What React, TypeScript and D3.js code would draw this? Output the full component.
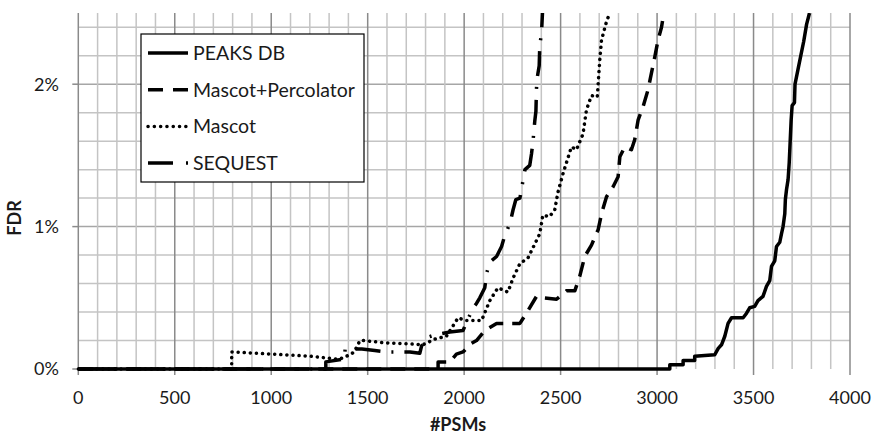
import React from 'react'
import { scaleLinear, line, range } from 'd3'

// [#PSMs, FDR %]
const peaksDb: [number, number][] = [
  [0, 0], [3066, 0], [3066, 0.03], [3135, 0.03], [3135, 0.06], [3195, 0.06], [3195, 0.09],
  [3299, 0.1], [3317, 0.145], [3334, 0.17], [3351, 0.23], [3368, 0.32], [3386, 0.36],
  [3446, 0.36], [3463, 0.39], [3480, 0.43], [3506, 0.44], [3523, 0.48], [3549, 0.51],
  [3567, 0.58], [3584, 0.62], [3593, 0.72], [3610, 0.76], [3619, 0.86], [3636, 0.89],
  [3645, 0.95], [3653, 1.0], [3662, 1.09], [3665, 1.19], [3671, 1.26], [3679, 1.33],
  [3685, 1.45], [3690, 1.6], [3695, 1.75], [3700, 1.85], [3712, 1.87], [3715, 2.0],
  [3730, 2.1], [3745, 2.2], [3760, 2.3], [3775, 2.42], [3790, 2.5],
]

const mascotPercolator: [number, number][] = [
  [0, 0], [1865, 0], [1865, 0.05], [1926, 0.05], [1960, 0.105], [1994, 0.12], [2038, 0.18],
  [2064, 0.2], [2107, 0.27], [2168, 0.32], [2289, 0.32], [2331, 0.41], [2375, 0.51],
  [2408, 0.5], [2479, 0.49], [2531, 0.55], [2574, 0.55], [2599, 0.65], [2625, 0.79],
  [2660, 0.87], [2695, 0.98], [2712, 1.09], [2738, 1.21], [2772, 1.28], [2798, 1.35],
  [2807, 1.49], [2833, 1.56], [2867, 1.54], [2884, 1.61], [2902, 1.75], [2927, 1.84],
  [2953, 1.96], [2971, 2.08], [2988, 2.19], [3005, 2.31], [3023, 2.4], [3035, 2.5],
]

const mascot: [number, number][] = [
  [0, 0], [795, 0], [795, 0.12], [1000, 0.105], [1200, 0.09], [1339, 0.07], [1365, 0.075],
  [1408, 0.1], [1430, 0.12], [1460, 0.2], [1477, 0.2], [1579, 0.185], [1734, 0.175],
  [1786, 0.17], [1848, 0.21], [1908, 0.23], [1969, 0.36], [2004, 0.34], [2090, 0.34],
  [2133, 0.48], [2175, 0.57], [2227, 0.54], [2254, 0.64], [2289, 0.74], [2331, 0.78],
  [2392, 0.95], [2408, 1.08], [2443, 1.07], [2470, 1.12], [2486, 1.24], [2512, 1.37],
  [2556, 1.56], [2582, 1.54], [2616, 1.65], [2634, 1.82], [2660, 1.92], [2690, 1.91],
  [2703, 2.17], [2712, 2.31], [2738, 2.44], [2755, 2.5],
]

const sequest: [number, number][] = [
  [0, 0], [1283, 0], [1283, 0.05], [1380, 0.07], [1383, 0.14], [1470, 0.14], [1537, 0.13],
  [1598, 0.12], [1719, 0.12], [1770, 0.11], [1779, 0.16], [1805, 0.22], [1850, 0.24],
  [1926, 0.26], [1994, 0.27], [2030, 0.38], [2047, 0.43], [2064, 0.46], [2081, 0.5],
  [2107, 0.57], [2116, 0.67], [2133, 0.75], [2168, 0.79], [2194, 0.86], [2211, 0.94],
  [2237, 1.02], [2254, 1.12], [2268, 1.19], [2289, 1.2], [2306, 1.33], [2315, 1.4],
  [2340, 1.43], [2349, 1.51], [2357, 1.6], [2366, 1.74], [2372, 1.81], [2375, 1.97],
  [2378, 2.04], [2389, 2.13], [2392, 2.27], [2401, 2.36], [2406, 2.5],
]

const xTicks = [0, 500, 1000, 1500, 2000, 2500, 3000, 3500, 4000]
const yTicks = [0, 1, 2]

const series = [
  { name: 'PEAKS DB', data: peaksDb, dash: 'none', legendDash: 'none', cap: 'butt' },
  { name: 'Mascot+Percolator', data: mascotPercolator, dash: '15 9', legendDash: '15 10', cap: 'butt' },
  { name: 'Mascot', data: mascot, dash: '0.1 6', legendDash: '0.1 6.2', cap: 'round' },
  { name: 'SEQUEST', data: sequest, dash: '25 11 2 11', legendDash: '25 13 2 20', cap: 'butt' },
]

const W = 872
const H = 435
const left = 78.3
const right = 850
const top = 13
const bottom = 369

const x = scaleLinear().domain([0, 4000]).range([left, right])
const y = scaleLinear().domain([0, 2.5]).range([bottom, top])

const font = 'Lato, "Open Sans", sans-serif'

export default function App() {
  const path = line<[number, number]>()
    .x(d => x(d[0]))
    .y(d => y(d[1]))

  const vGrid = range(0, 4001, 100)
  const hGrid = range(0.2, 2.41, 0.2)

  return (
    <svg width={W} height={H} style={{ position: 'absolute', left: 0, top: 0, background: '#fff' }}>
      <defs>
        <clipPath id="plot">
          <rect x={left - 2} y={top} width={right - left + 4} height={bottom - top + 4} />
        </clipPath>
      </defs>

      {hGrid.map(v => (
        <line key={'h' + v} x1={left} x2={right} y1={y(v)} y2={y(v)}
          stroke={Math.abs(v - 1) < 0.01 || Math.abs(v - 2) < 0.01 ? '#a6a6a6' : '#c4c4c4'} strokeWidth={1.5} />
      ))}
      {vGrid.map(v => (
        <line key={'v' + v} x1={x(v)} x2={x(v)} y1={top} y2={v % 500 === 0 ? bottom + 6 : bottom}
          stroke={v % 500 === 0 ? '#8a8a8a' : '#c4c4c4'} strokeWidth={1.5} />
      ))}
      {yTicks.map(t => (
        <line key={'yt' + t} x1={left - 6} x2={left} y1={y(t)} y2={y(t)} stroke="#8a8a8a" strokeWidth={1.5} />
      ))}

      <g clipPath="url(#plot)">
        {series.map(s => (
          <path key={s.name} d={path(s.data) || ''} fill="none" stroke="#000"
            strokeWidth={s.cap === 'round' ? 3.5 : 3.5} strokeDasharray={s.dash}
            strokeLinecap={s.cap as any} strokeLinejoin="round" />
        ))}
      </g>

      {yTicks.map(t => (
        <text key={'yl' + t} x={59} y={y(t)} dy="0.35em" textAnchor="end"
          fontFamily={font} fontSize={18} fill="#1a1a1a">{t}%</text>
      ))}
      {xTicks.map(t => (
        <text key={'xl' + t} x={x(t)} y={404} textAnchor="middle"
          fontFamily={font} fontSize={18} fill="#1a1a1a">{t}</text>
      ))}

      <text x={458} y={431} textAnchor="middle" fontFamily={font} fontSize={18} fontWeight="bold" fill="#1a1a1a">#PSMs</text>
      <text transform="translate(21,218) rotate(-90)" textAnchor="middle" fontFamily={font} fontSize={18}
        fontWeight="bold" fill="#1a1a1a">FDR</text>

      <g>
        <rect x={141} y={34} width={223} height={148} fill="#fff" stroke="#000" strokeWidth={1.2} />
        {series.map((s, i) => {
          const ly = 53 + i * 36.7
          return (
            <g key={'lg' + s.name}>
              <line x1={148} x2={188} y1={ly} y2={ly} stroke="#000" strokeWidth={3.5}
                strokeDasharray={s.legendDash} strokeLinecap={s.cap as any} />
              <text x={193} y={ly} dy="0.35em" fontFamily={font} fontSize={19.5} fill="#1a1a1a">{s.name}</text>
            </g>
          )
        })}
      </g>
    </svg>
  )
}
